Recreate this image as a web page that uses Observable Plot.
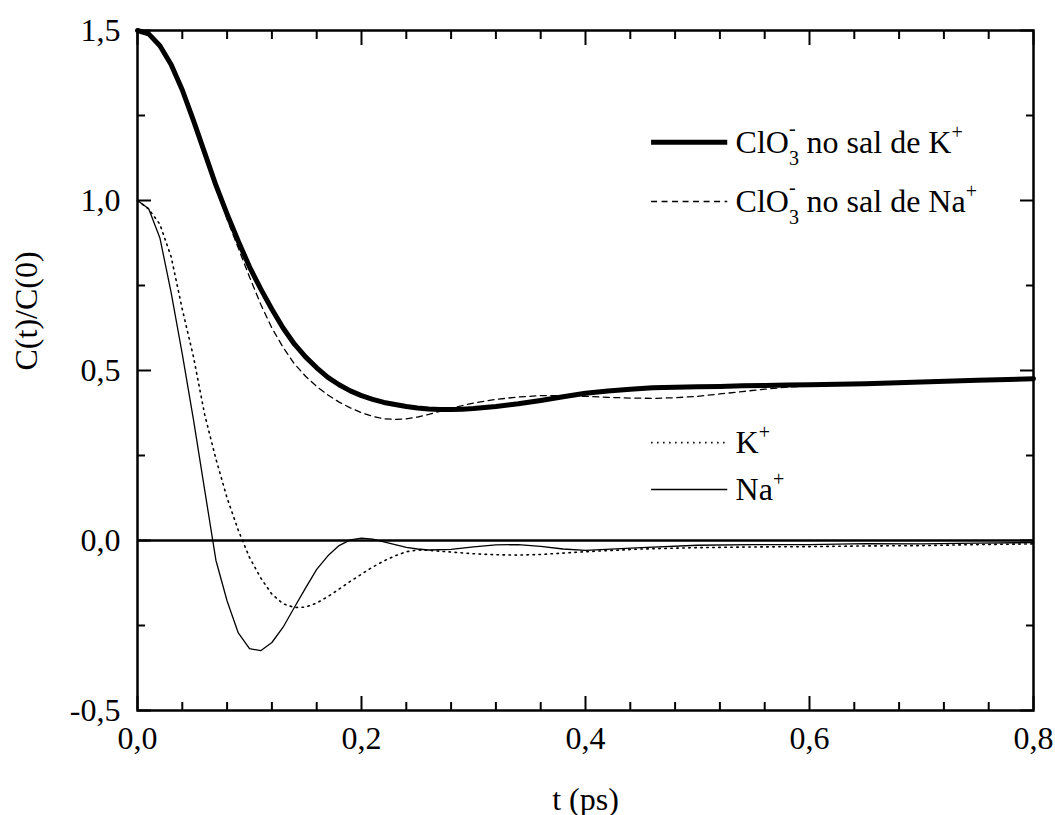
<!DOCTYPE html>
<html><head><meta charset="utf-8">
<script src="https://cdn.jsdelivr.net/npm/d3@7"></script>
<script src="https://cdn.jsdelivr.net/npm/@observablehq/plot@0.6"></script>
<style>
html,body{margin:0;padding:0;background:#fff;}
#chart svg{display:block;font-family:"Liberation Serif","Times New Roman","DejaVu Serif",serif;}
#chart svg text{font-family:"Liberation Serif","Times New Roman","DejaVu Serif",serif;}
</style></head><body><div id="chart"></div>
<script>
// ---- data ----
const tClO3 = [0,0.01,0.02,0.03,0.04,0.05,0.06,0.07,0.08,0.09,0.10,0.11,0.12,0.13,0.14,0.15,0.16,0.17,0.18,0.19,0.20,0.21,0.22,0.23,0.24,0.25,0.26,0.27,0.28,0.29,0.30,
  0.32,0.34,0.36,0.38,0.40,0.42,0.44,0.46,0.48,0.50,0.52,0.54,0.56,0.58,0.60,0.65,0.70,0.75,0.80];
const clo3InK = [1.5,1.49,1.455,1.4,1.325,1.235,1.14,1.045,0.96,0.88,0.805,0.74,0.68,0.625,0.578,0.54,0.508,0.48,0.458,0.44,0.426,0.415,0.406,0.4,0.394,0.39,0.387,0.385,0.385,0.386,0.388,
  0.394,0.402,0.412,0.423,0.433,0.44,0.445,0.449,0.451,0.452,0.453,0.455,0.456,0.457,0.458,0.461,0.466,0.471,0.476];
const clo3InNa = [1.5,1.49,1.455,1.4,1.325,1.235,1.14,1.04,0.945,0.86,0.775,0.695,0.625,0.568,0.52,0.483,0.453,0.428,0.407,0.39,0.376,0.365,0.358,0.356,0.358,0.363,0.371,0.38,0.389,0.397,0.404,
  0.415,0.422,0.426,0.426,0.424,0.421,0.419,0.418,0.42,0.424,0.431,0.438,0.445,0.451,0.455,0.46,0.465,0.47,0.475];
const tIon = [0,0.01,0.02,0.03,0.04,0.05,0.06,0.07,0.08,0.09,0.10,0.11,0.12,0.13,0.14,0.15,0.16,0.17,0.18,0.19,0.20,0.21,0.22,0.23,0.24,0.25,
  0.26,0.28,0.30,0.32,0.34,0.36,0.38,0.40,0.45,0.50,0.55,0.60,0.65,0.70,0.75,0.80];
const ionK = [1.0,0.975,0.93,0.835,0.68,0.54,0.37,0.24,0.125,0.03,-0.05,-0.11,-0.158,-0.186,-0.197,-0.196,-0.184,-0.165,-0.143,-0.12,-0.099,-0.078,-0.06,-0.045,-0.033,-0.028,
  -0.029,-0.034,-0.039,-0.042,-0.043,-0.041,-0.037,-0.033,-0.025,-0.021,-0.019,-0.018,-0.016,-0.015,-0.012,-0.01];
const ionNa = [1.0,0.976,0.89,0.73,0.548,0.355,0.148,-0.058,-0.178,-0.272,-0.318,-0.324,-0.3,-0.255,-0.197,-0.14,-0.085,-0.045,-0.015,0.002,0.007,0.004,-0.004,-0.012,-0.02,-0.025,
  -0.028,-0.026,-0.019,-0.013,-0.012,-0.017,-0.025,-0.029,-0.021,-0.014,-0.012,-0.012,-0.009,-0.01,-0.008,-0.006];
const xMajor = [0,0.2,0.4,0.6,0.8];
const xMinor = [0.04,0.08,0.12,0.16,0.24,0.28,0.32,0.36,0.44,0.48,0.52,0.56,0.64,0.68,0.72,0.76];
const yMajor = [-0.5,0,0.5,1.0,1.5];
const yMinor = [-0.25,0.25,0.75,1.25];
const seriesNames = ["ClO3- no sal de K+","ClO3- no sal de Na+","K+","Na+"];
const xLabel = "t (ps)";
const yLabel = "C(t)/C(0)";

// ---- build ----
const clo3Rows = tClO3.map((t,i)=>({t, k: clo3InK[i], na: clo3InNa[i]}));
const ionRows = tIon.map((t,i)=>({t, k: ionK[i], na: ionNa[i]}));
const fmt = d => d.toFixed(1).replace(".", ",");

// legend placement (in data units of the chart)
const legX1 = 0.459, legX2 = 0.527, legTX = 0.534;
const legY = [1.171, 0.997, 0.288, 0.15];
const legStyles = [
  {strokeWidth: 5},
  {strokeWidth: 1.3, strokeDasharray: "6,4.5"},
  {strokeWidth: 1.6, strokeDasharray: "1.5,4.5"},
  {strokeWidth: 1.3}
];
const legRows = seriesNames.map((name,i)=>({name, y: legY[i]}));
const richParts = [
  [{text:"ClO"},{sub:"3", sup:"-"},{text:" no sal de K", dx:3},{sup:"+"}],
  [{text:"ClO"},{sub:"3", sup:"-"},{text:" no sal de Na", dx:3},{sup:"+"}],
  [{text:"K"},{sup:"+"}],
  [{text:"Na"},{sup:"+"}]
];

const tickCommon = {strokeWidth: 2, label: null, tickFormat: () => ""};

const chart = Plot.plot({
  width: 1055, height: 815,
  marginLeft: 137, marginRight: 22, marginTop: 30, marginBottom: 105,
  x: {domain: [0, 0.8], label: null},
  y: {domain: [-0.5, 1.5], label: null},
  style: {fontSize: "32px", background: "white", color: "black", overflow: "visible"},
  marks: [
    Plot.line(ionRows, {x: "t", y: "k", stroke: "black", strokeWidth: 1.6, strokeDasharray: "1.5,4.5"}),
    Plot.line(ionRows, {x: "t", y: "na", stroke: "black", strokeWidth: 1.3}),
    Plot.line(clo3Rows, {x: "t", y: "na", stroke: "black", strokeWidth: 1.3, strokeDasharray: "6,4.5"}),
    Plot.line(clo3Rows, {x: "t", y: "k", stroke: "black", strokeWidth: 5}),
    Plot.ruleY([0], {stroke: "black", strokeWidth: 2.5}),
    Plot.frame({stroke: "black", strokeWidth: 2.5}),
    Plot.axisX(xMajor, {anchor: "bottom", tickSize: -14, tickPadding: 30, strokeWidth: 2, tickFormat: fmt, label: null, fontSize: 32}),
    Plot.axisX(xMinor, {anchor: "bottom", tickSize: -8, ...tickCommon}),
    Plot.axisX(xMajor, {anchor: "top", tickSize: -14, ...tickCommon}),
    Plot.axisX(xMinor, {anchor: "top", tickSize: -8, ...tickCommon}),
    Plot.axisY(yMajor, {anchor: "left", tickSize: -14, tickPadding: 31, strokeWidth: 2, tickFormat: fmt, label: null, fontSize: 32}),
    Plot.axisY(yMinor, {anchor: "left", tickSize: -8, ...tickCommon}),
    Plot.axisY(yMajor, {anchor: "right", tickSize: -14, ...tickCommon}),
    Plot.axisY(yMinor, {anchor: "right", tickSize: -8, ...tickCommon}),
    Plot.text([xLabel], {text: d => d, frameAnchor: "bottom", dy: 89, lineAnchor: "middle", fontSize: 32}),
    Plot.text([yLabel], {text: d => d, frameAnchor: "left", dx: -111, rotate: -90, lineAnchor: "middle", fontSize: 32}),
    ...legRows.map((r,i) => Plot.ruleY([r], {y: "y", x1: legX1, x2: legX2, stroke: "black", ...legStyles[i]})),
    Plot.text(legRows, {x: legTX, y: "y", text: "name", textAnchor: "start", lineAnchor: "middle", fontSize: 32, className: "legend-text"})
  ]
});

document.getElementById("chart").appendChild(chart);

function rich(el, parts){
  const sel = d3.select(el);
  sel.text(null);
  let off = 0;
  for (const p of parts) {
    if (p.text !== undefined) {
      sel.append("tspan").attr("dy", -off).attr("dx", p.dx || 0).text(p.text);
      off = 0;
    } else {
      if (p.sub) {
        sel.append("tspan").attr("font-size", 20).attr("dy", 12 - off).text(p.sub);
        off = 12;
      }
      if (p.sup) {
        const supOff = p.sup === "-" ? -18 : -14;
        const t = sel.append("tspan").attr("font-size", 20).attr("dy", supOff - off).text(p.sup);
        if (p.sub) t.attr("dx", -10);
        off = supOff;
      }
    }
  }
}
d3.select(chart).selectAll(".legend-text text").each(function(d, i){ rich(this, richParts[i]); });
</script>
</body></html>
